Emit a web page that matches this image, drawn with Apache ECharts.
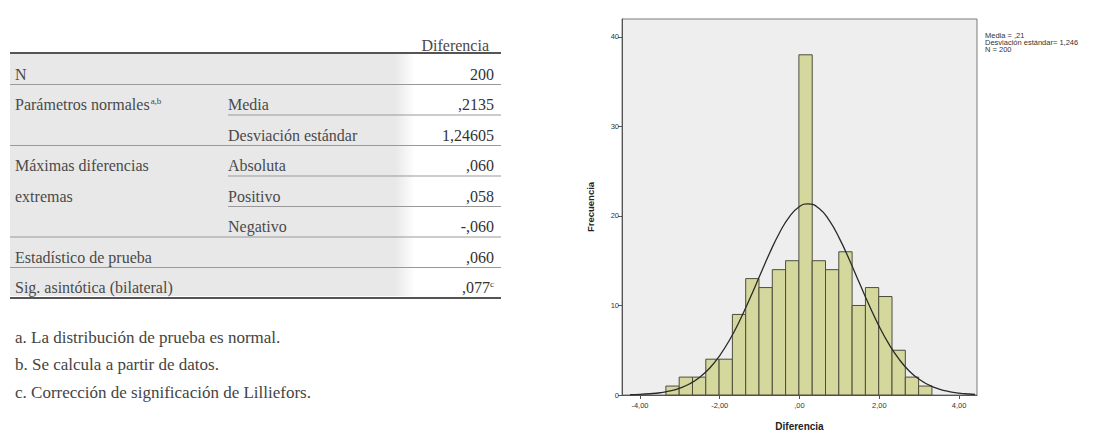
<!DOCTYPE html>
<html>
<head>
<meta charset="utf-8">
<script src="https://cdn.jsdelivr.net/npm/echarts@6/dist/echarts.min.js"></script>
<style>
html,body{margin:0;padding:0;background:#fff;}
#c{width:1101px;height:436px;}
</style>
</head>
<body>
<div id="c"></div>
<script>
// ---- Data ----
const binStart = -3.35;
const binWidth = 0.3335;
const counts = [1, 2, 2, 4, 4, 9, 13, 12, 14, 15, 38, 15, 14, 16, 10, 12, 11, 5, 2, 1];
// normal curve (x, frequency)
const curveX = [-4.25, -4.0, -3.75, -3.5, -3.25, -3.0, -2.75, -2.5, -2.25, -2.0, -1.75, -1.5, -1.25, -1.0, -0.75, -0.5, -0.25, 0.0, 0.21, 0.5, 0.75, 1.0, 1.25, 1.5, 1.75, 2.0, 2.25, 2.5, 2.75, 3.0, 3.25, 3.5, 3.75, 4.0, 4.25, 4.4];
const curveY = [0.04, 0.07, 0.14, 0.25, 0.45, 0.77, 1.26, 1.99, 3.02, 4.41, 6.17, 8.30, 10.72, 13.29, 15.84, 18.13, 19.93, 21.05, 21.36, 20.80, 19.47, 17.50, 15.11, 12.53, 9.99, 7.64, 5.62, 3.97, 2.69, 1.75, 1.10, 0.66, 0.38, 0.21, 0.11, 0.07];
const xTicks = [-4, -2, 0, 2, 4];
const yTicks = [0, 10, 20, 30, 40];
const statsLines = ['Media = ,21', 'Desviación estándar= 1,246', 'N = 200'];

// table
const tableHeader = 'Diferencia';
const col1 = ['N', 'Parámetros normales', '', 'Máximas diferencias', 'extremas', '', 'Estadístico de prueba', 'Sig. asintótica (bilateral)'];
const col1Sup = ['', 'a,b', '', '', '', '', '', ''];
const col2 = ['', 'Media', 'Desviación estándar', 'Absoluta', 'Positivo', 'Negativo', '', ''];
const values = ['200', ',2135', '1,24605', ',060', ',058', '-,060', ',060', ',077'];
const valueSup = ['', '', '', '', '', '', '', 'c'];
const footnotes = ['a. La distribución de prueba es normal.', 'b. Se calcula a partir de datos.', 'c. Corrección de significación de Lilliefors.'];

// ---- Build ----
const histData = counts.map((c, i) => [binStart + i * binWidth, binStart + (i + 1) * binWidth, c]);
const curveData = curveX.map((x, i) => [x, curveY[i]]);
const fmt = v => {
  let s = Math.abs(v).toFixed(2).replace('.', ',');
  if (s.startsWith('0')) s = s.slice(1);
  return (v < 0 ? '-' : '') + s;
};

const serif = '"Liberation Serif", "DejaVu Serif", serif';
const sans = '"Liberation Sans", Arial, sans-serif';
const txtCol = '#4a4a4a';
const fs = 16;
const els = [];
const tL = 10, tR = 501, c2x = 228, valX = 494;
const rowY0 = 74, rowH = 30.5;
// shading
els.push({type: 'rect', silent: true, shape: {x: tL, y: 54, width: 385, height: 242}, style: {fill: '#e8e8e8'}});
els.push({type: 'rect', silent: true, shape: {x: 395, y: 54, width: 20, height: 242},
  style: {fill: new echarts.graphic.LinearGradient(0, 0, 1, 0, [{offset: 0, color: '#e8e8e8'}, {offset: 1, color: '#ffffff'}])}});
// header
els.push({type: 'text', style: {text: tableHeader, x: valX - 5, y: 45, align: 'right', verticalAlign: 'middle', font: fs + 'px ' + serif, fill: txtCol}});
els.push({type: 'line', shape: {x1: tL, y1: 53, x2: tR, y2: 53}, style: {stroke: '#555', lineWidth: 2}});
const fullLine = [true, false, true, false, false, true, true, true];
for (let i = 0; i < col1.length; i++) {
  const y = rowY0 + i * rowH;
  if (col1[i]) {
    els.push({type: 'text', style: {
      text: '{m|' + col1[i] + '}' + (col1Sup[i] ? '{s|' + col1Sup[i] + '}' : ''),
      x: 15, y: y, align: 'left', verticalAlign: 'middle', fill: txtCol,
      rich: {m: {fontSize: fs, fontFamily: serif, fill: txtCol, verticalAlign: 'middle'}, s: {fontSize: 9, fontFamily: serif, fill: txtCol, verticalAlign: 'top', padding: [0, 0, 7, 1]}}
    }});
  }
  if (col2[i]) {
    els.push({type: 'text', style: {text: col2[i], x: c2x, y: y, align: 'left', verticalAlign: 'middle', font: fs + 'px ' + serif, fill: txtCol}});
  }
  els.push({type: 'text', style: {
    text: '{m|' + values[i] + '}' + (valueSup[i] ? '{s|' + valueSup[i] + '}' : ''),
    x: valX, y: y, align: 'right', verticalAlign: 'middle', fill: '#333',
    rich: {m: {fontSize: fs, fontFamily: serif, fill: '#333', verticalAlign: 'middle'}, s: {fontSize: 9, fontFamily: serif, fill: '#333', verticalAlign: 'top', padding: [0, 0, 7, 0]}}
  }});
  const ly = y + 10.5;
  const last = i === col1.length - 1;
  els.push({type: 'line', shape: {x1: fullLine[i] ? tL : c2x, y1: ly, x2: tR, y2: ly}, style: {stroke: last ? '#555' : '#999', lineWidth: last ? 2 : 1}});
}
footnotes.forEach((f, i) => {
  els.push({type: 'text', style: {text: f, x: 15, y: 337 + i * 27.5, align: 'left', verticalAlign: 'middle', font: '17px ' + serif, fill: '#444'}});
});
// stats text at right of chart
statsLines.forEach((t, i) => {
  els.push({type: 'text', style: {text: t, x: 985, y: 35 + i * 7.3, align: 'left', verticalAlign: 'middle', font: '7.5px ' + sans, fill: '#333'}});
});

const chart = echarts.init(document.getElementById('c'), null, {renderer: 'svg'});
chart.setOption({
  animation: false,
  backgroundColor: '#ffffff',
  grid: {left: 622, top: 19, right: 124, bottom: 39, show: true, backgroundColor: '#eeeeee', borderColor: '#7a7a7a', borderWidth: 1},
  xAxis: {
    type: 'value', min: -4.45, max: 4.45,
    name: 'Diferencia', nameLocation: 'middle', nameGap: 26,
    nameTextStyle: {fontFamily: sans, fontSize: 10, fontWeight: 'bold', color: '#222'},
    axisLine: {show: true, onZero: false, lineStyle: {color: '#555', width: 1}},
    axisTick: {show: true, customValues: xTicks, length: 4, lineStyle: {color: '#555'}},
    axisLabel: {customValues: xTicks, formatter: v => fmt(v), fontFamily: sans, fontSize: 7.5, color: '#333', margin: 6},
    splitLine: {show: false}
  },
  yAxis: {
    type: 'value', min: 0, max: 42,
    name: 'Frecuencia', nameLocation: 'middle', nameGap: 27, nameRotate: 90,
    nameTextStyle: {fontFamily: sans, fontSize: 9.5, fontWeight: 'bold', color: '#222'},
    axisLine: {show: true, onZero: false, lineStyle: {color: '#555', width: 1}},
    axisTick: {show: true, customValues: yTicks, length: 4, lineStyle: {color: '#555'}},
    axisLabel: {customValues: yTicks, fontFamily: sans, fontSize: 7.5, color: '#333', margin: 3},
    splitLine: {show: false}
  },
  series: [
    {
      type: 'custom',
      data: histData,
      encode: {x: [0, 1], y: 2},
      renderItem: (params, api) => {
        const p0 = api.coord([api.value(0), api.value(2)]);
        const p1 = api.coord([api.value(1), 0]);
        return {type: 'rect', shape: {x: p0[0], y: p0[1], width: p1[0] - p0[0], height: p1[1] - p0[1]},
          style: {fill: '#d5d89c', stroke: '#4d4d3c', lineWidth: 1}};
      },
      z: 2
    },
    {
      type: 'line', data: curveData, smooth: true, showSymbol: false, symbol: 'none',
      lineStyle: {color: '#2a2a2a', width: 1.3}, z: 3
    }
  ],
  graphic: {elements: els}
});
</script>
</body>
</html>
